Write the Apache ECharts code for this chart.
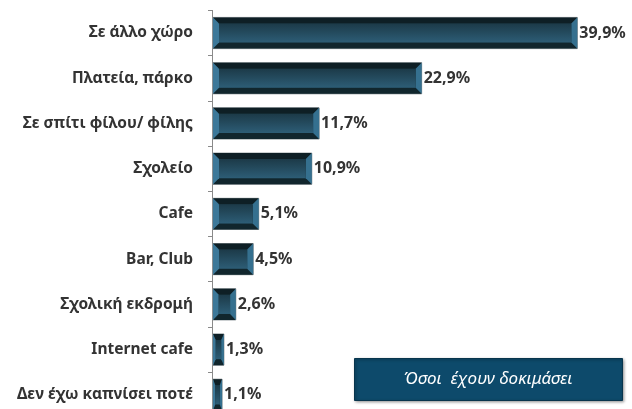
<!DOCTYPE html>
<html>
<head>
<meta charset="utf-8">
<script src="https://cdn.jsdelivr.net/npm/echarts@6/dist/echarts.min.js"></script>
<style>
html,body{margin:0;padding:0;background:#fff;}
#chart{width:632px;height:409px;}
</style>
</head>
<body>
<div id="chart"></div>
<script>
var categories = ['Σε άλλο χώρο', 'Πλατεία, πάρκο', 'Σε σπίτι φίλου/ φίλης', 'Σχολείο', 'Cafe', 'Bar, Club', 'Σχολική εκδρομή', 'Internet cafe', 'Δεν έχω καπνίσει ποτέ'];
var values = [39.9, 22.9, 11.7, 10.9, 5.1, 4.5, 2.6, 1.3, 1.1];
var seriesName = 'Όσοι  έχουν δοκιμάσει';

var FONT = '"Noto Sans", "DejaVu Sans", sans-serif';
var chart = echarts.init(document.getElementById('chart'), null, {renderer: 'canvas'});

function fmt(v) { return v.toFixed(1).replace('.', ',') + '%'; }

function renderItem(params, api) {
  var i = api.value(0);
  var v = api.value(1);
  var p0 = api.coord([0, i]);
  var p1 = api.coord([v, i]);
  var band = api.size([0, 1])[1];
  var h = band * 0.69;
  var x0 = p0[0] + 1, x1 = p1[0];
  var y0 = p0[1] - h / 2, y1 = p0[1] + h / 2;
  var w = x1 - x0;
  var bx = Math.min(6, w * 0.25), by = 6;
  return {
    type: 'group',
    children: [
      {type: 'rect', shape: {x: x0, y: y0, width: w, height: h}, style: {fill: '#16313b', stroke: '#8c9598', lineWidth: 1}},
      {type: 'polygon', shape: {points: [[x0, y0], [x1, y0], [x1 - bx, y0 + by], [x0 + bx, y0 + by]]}, style: {fill: '#0e1f25'}},
      {type: 'polygon', shape: {points: [[x0, y1], [x1, y1], [x1 - bx, y1 - by], [x0 + bx, y1 - by]]}, style: {fill: '#11262d'}},
      {type: 'polygon', shape: {points: [[x0, y0], [x0 + bx, y0 + by], [x0 + bx, y1 - by], [x0, y1]]}, style: {fill: '#3c7899'}},
      {type: 'polygon', shape: {points: [[x1, y0], [x1 - bx, y0 + by], [x1 - bx, y1 - by], [x1, y1]]}, style: {fill: '#35708f'}},
      {type: 'rect', shape: {x: x0 + bx, y: y0 + by, width: Math.max(0, w - 2 * bx), height: h - 2 * by},
        style: {fill: new echarts.graphic.LinearGradient(0, 0, 0, 1, [{offset: 0, color: '#1c3a48'}, {offset: 1, color: '#2d5d76'}])}},
      {type: 'text', x: x1 + 2, y: p0[1], style: {text: fmt(v), fill: '#333333', font: 'bold 16px ' + FONT, verticalAlign: 'middle', align: 'left'}}
    ]
  };
}

var data = values.map(function (v, i) { return [i, v]; });

chart.setOption({
  animation: false,
  backgroundColor: '#ffffff',
  grid: {left: 212, right: 8, top: 10.4, height: 407, outerBoundsMode: 'none', containLabel: false},
  xAxis: {type: 'value', min: 0, max: 45, show: false},
  yAxis: {
    type: 'category', data: categories, inverse: true,
    axisLine: {show: true, lineStyle: {color: '#8a8a8a', width: 1}},
    axisTick: {show: true, length: 4, lineStyle: {color: '#8a8a8a'}},
    axisLabel: {color: '#333333', fontWeight: 'bold', fontSize: 15.5, fontFamily: FONT, margin: 19}
  },
  series: [{
    name: seriesName,
    type: 'custom',
    renderItem: renderItem,
    encode: {x: 1, y: 0},
    data: data
  }],
  graphic: [
    {type: 'rect', left: 354, top: 358, shape: {width: 268, height: 42},
      style: {fill: '#0d4a6b', stroke: '#08354d', lineWidth: 1, shadowBlur: 3, shadowOffsetX: 1, shadowOffsetY: 1, shadowColor: 'rgba(0,0,0,0.4)'}},
    {type: 'text', x: 488, y: 379,
      style: {text: seriesName, fill: '#ffffff', font: 'italic 17px ' + FONT, align: 'center', verticalAlign: 'middle'}}
  ]
});
</script>
</body>
</html>
